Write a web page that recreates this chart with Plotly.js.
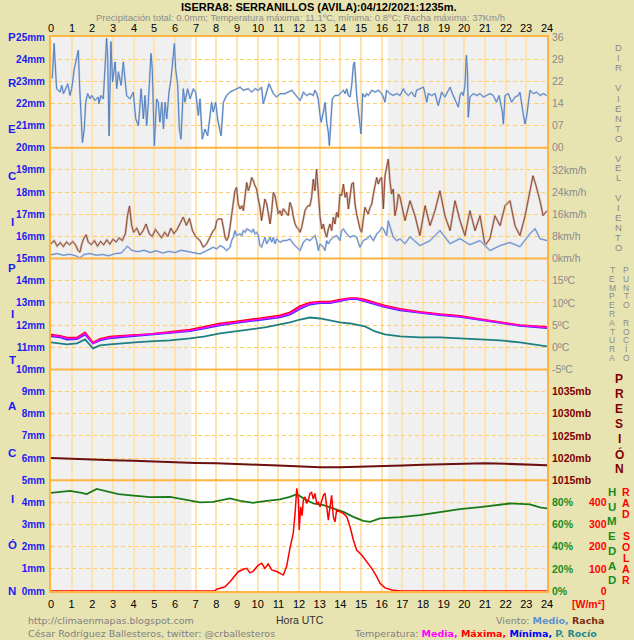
<!DOCTYPE html>
<html><head><meta charset="utf-8">
<script src="https://cdn.plot.ly/plotly-3.0.1.min.js"></script>
<style>html,body{margin:0;padding:0;background:#e8e4b2;}#chart{width:634px;height:640px;}</style>
</head><body><div id="chart"></div>
<script>
// ---------------- DATA ----------------
const titleText = "ISERRA8: SERRANILLOS (AVILA):04/12/2021:1235m.";
const subtitleText = "Precipitación total: 0.0mm; Temperatura máxima: 11.1ºC, mínima: 0.8ºC; Racha máxima: 37Km/h";
const dayStart = 6.8, dayEnd = 16.3;

const hourLabels = [0,1,2,3,4,5,6,7,8,9,10,11,12,13,14,15,16,17,18,19,20,21,22,23,24];
const precipTicks = [0,1,2,3,4,5,6,7,8,9,10,11,12,13,14,15,16,17,18,19,20,21,22,23,24,25];
const dirTickVals = [0,7.2,14.4,21.6,28.8,36];
const dirTickText = ["00","07","14","22","29","36"];
const spdTickVals = [0,8,16,24,32];
const tmpTickVals = [-5,0,5,10,15];
const presTickVals = [1015,1020,1025,1030,1035];
const humTickVals = [0,20,40,60,80];
const solTickVals = [0,100,200,300,400];

const wdirT = [0.06,0.15,0.27,0.44,0.52,0.60,0.68,0.81,0.92,1.00,1.13,1.21,1.32,1.39,1.45,1.52,1.61,1.68,1.77,1.89,1.97,2.13,2.29,2.32,2.42,2.53,2.61,2.69,2.74,2.81,2.90,2.98,3.10,3.18,3.26,3.39,3.50,3.66,3.82,3.98,4.10,4.23,4.36,4.47,4.55,4.63,4.71,4.84,4.90,5.00,5.11,5.19,5.27,5.36,5.44,5.52,5.60,5.71,5.81,5.97,6.03,6.13,6.21,6.29,6.40,6.48,6.61,6.73,6.89,7.00,7.13,7.21,7.32,7.45,7.58,7.69,7.77,7.85,7.97,8.06,8.13,8.23,8.34,8.50,8.66,8.82,8.98,9.15,9.31,9.55,9.71,9.87,10.03,10.19,10.27,10.44,10.55,10.76,10.92,11.08,11.32,11.65,11.89,12.05,12.13,12.21,12.37,12.53,12.69,12.77,12.86,12.94,13.02,13.07,13.18,13.26,13.34,13.42,13.47,13.55,13.61,13.74,13.90,14.06,14.15,14.23,14.31,14.39,14.47,14.55,14.63,14.68,14.71,14.79,14.87,14.95,15.00,15.08,15.19,15.27,15.36,15.52,15.68,15.84,16.00,16.08,16.16,16.24,16.40,16.56,16.73,16.89,17.05,17.13,17.29,17.45,17.61,17.69,17.86,18.02,18.10,18.18,18.26,18.42,18.58,18.74,18.90,19.06,19.23,19.31,19.39,19.55,19.71,19.79,19.87,19.95,20.03,20.10,20.16,20.19,20.27,20.44,20.60,20.76,20.92,21.08,21.24,21.40,21.56,21.68,21.77,21.84,21.89,21.97,22.13,22.29,22.45,22.61,22.69,22.77,22.86,22.94,23.02,23.10,23.18,23.34,23.50,23.66,23.82,23.98];
const wdirV = [22.5,33.9,19.2,18.1,20.3,17.6,18.7,20.8,17.0,19.2,25.7,28.5,31.7,19.2,9.4,1.7,6.1,14.8,17.6,15.9,17.0,15.4,16.5,14.3,17.0,15.9,25.7,35.6,30.1,3.9,34.5,21.4,27.9,19.2,24.7,20.3,27.9,17.0,15.9,18.1,9.4,7.2,19.2,9.4,17.0,7.2,14.8,30.7,25.7,0.7,15.9,14.8,8.3,14.8,6.1,14.8,9.4,18.1,22.5,33.9,25.7,20.3,6.1,2.8,19.2,14.8,19.2,15.9,19.2,18.1,10.5,15.9,2.8,6.1,3.9,9.4,14.8,11.6,14.8,9.4,7.2,3.9,14.8,17.0,18.1,18.7,19.2,19.7,18.7,19.2,18.1,19.2,18.7,19.7,14.3,18.7,20.8,17.6,16.5,17.6,17.6,18.7,16.5,15.4,16.5,18.1,17.0,17.6,17.0,18.7,17.6,15.4,10.5,8.3,11.6,14.8,8.3,5.0,0.7,9.4,15.9,17.0,17.0,18.1,18.7,17.6,19.2,17.0,16.5,20.3,26.8,27.9,25.7,17.0,12.7,8.3,4.5,17.6,16.5,17.6,17.0,18.7,18.1,18.7,17.6,16.5,14.8,18.7,17.6,17.0,17.6,17.0,19.2,18.1,17.0,18.1,16.5,18.7,19.2,19.7,17.6,14.8,17.6,17.0,17.6,13.7,18.1,16.5,18.7,19.7,18.1,15.9,13.2,17.0,18.1,17.0,20.3,30.1,23.6,9.9,16.5,17.6,17.0,17.6,16.5,17.0,17.6,17.0,14.8,17.0,13.7,11.6,7.7,17.0,17.6,14.8,16.5,17.0,18.1,13.7,10.5,7.7,10.5,14.8,18.7,17.6,18.1,17.0,17.6,17.0];

const gustT = [0,0.15,0.3,0.45,0.6,0.75,0.9,1.05,1.2,1.3,1.4,1.5,1.6,1.7,1.8,1.95,2.1,2.25,2.4,2.55,2.7,2.85,3.0,3.15,3.3,3.45,3.6,3.7,3.8,3.9,4.0,4.15,4.3,4.45,4.6,4.75,4.9,5.05,5.2,5.35,5.5,5.65,5.8,5.95,6.1,6.25,6.4,6.55,6.7,6.85,7.0,7.21,7.37,7.53,7.69,7.85,7.94,8.02,8.10,8.26,8.34,8.42,8.50,8.58,8.66,8.74,8.82,8.90,8.98,9.06,9.15,9.23,9.31,9.39,9.47,9.55,9.63,9.71,9.79,9.87,9.95,10.03,10.11,10.19,10.27,10.35,10.44,10.52,10.60,10.68,10.76,10.84,10.92,11.00,11.08,11.16,11.24,11.40,11.48,11.56,11.65,11.73,11.81,11.89,11.97,12.05,12.13,12.21,12.29,12.37,12.45,12.53,12.61,12.69,12.77,12.85,12.94,13.02,13.10,13.18,13.26,13.34,13.42,13.50,13.58,13.66,13.74,13.82,13.90,13.98,14.06,14.15,14.23,14.31,14.39,14.47,14.55,14.63,14.71,14.79,14.87,14.95,15.03,15.11,15.19,15.27,15.35,15.44,15.52,15.60,15.68,15.76,15.84,15.92,16.00,16.08,16.16,16.24,16.32,16.40,16.48,16.56,16.64,16.73,16.81,16.89,17.13,17.37,17.61,17.85,18.10,18.34,18.58,18.82,19.06,19.31,19.55,19.79,20.03,20.27,20.52,20.76,21.00,21.24,21.48,21.73,21.97,22.21,22.45,22.69,22.94,23.18,23.32,23.47,23.66,23.81,24.0];
const gustV = [5.3,6.5,4.5,5.8,4.3,6.0,5.0,6.2,4.8,3.0,2.3,5.5,7.5,8.6,6.0,5.0,6.5,4.5,6.2,5.0,6.8,5.2,7.0,6.0,7.5,6.5,9.0,15.5,19.0,12.0,9.5,11.0,8.5,10.0,12.5,9.0,8.0,10.5,9.0,7.5,9.5,8.0,11.0,9.0,10.5,13.0,15.0,12.0,14.5,10.0,8.0,6.5,4.1,5.3,7.7,10.1,10.7,13.7,14.3,14.3,11.3,7.7,6.5,7.7,11.3,15.5,19.1,24.5,25.7,19.7,17.9,19.1,17.3,21.5,27.5,24.5,26.3,29.3,28.1,26.3,25.1,21.5,18.5,13.7,18.5,21.5,19.7,16.1,12.5,17.3,23.9,22.7,18.5,16.1,17.3,15.5,18.0,16.1,15.5,20.3,18.5,14.9,12.5,11.3,10.7,9.5,11.3,14.3,17.3,18.5,19.1,19.1,22.1,28.7,24.5,32.3,23.3,14.9,10.7,12.5,9.5,7.7,10.7,12.5,10.1,14.9,12.5,16.7,14.9,23.3,22.7,26.9,22.1,23.9,17.9,22.7,26.9,27.5,19.7,16.1,13.7,10.7,9.5,14.9,18.5,17.3,16.1,18.5,19.7,23.3,26.9,29.3,26.9,28.7,29.3,17.9,29.9,32.9,35.9,28.1,23.3,25.1,15.5,18.5,23.3,22.1,13.7,20.9,15.5,8.3,19.1,11.9,17.3,24.5,15.5,10.1,20.9,13.7,8.3,17.3,10.1,15.5,4.7,7.2,15.5,11.9,19.1,20.9,11.9,8.3,15.5,24.5,29.9,26.3,20.9,15.5,17.3];

const meanT = [0,0.3,0.6,0.9,1.2,1.4,1.6,1.9,2.2,2.5,2.8,3.1,3.4,3.7,3.9,4.2,4.5,4.8,5.1,5.4,5.7,6.0,6.3,6.6,6.9,7.21,7.53,7.69,7.85,8.02,8.18,8.34,8.50,8.66,8.74,8.82,8.90,8.98,9.15,9.23,9.31,9.39,9.47,9.63,9.71,9.79,9.87,9.95,10.03,10.11,10.19,10.27,10.35,10.44,10.52,10.60,10.68,10.76,10.84,10.92,11.08,11.24,11.40,11.56,11.73,11.89,12.05,12.21,12.37,12.53,12.69,12.77,12.85,12.94,13.02,13.18,13.26,13.34,13.42,13.50,13.66,13.82,13.98,14.06,14.15,14.31,14.47,14.63,14.79,14.95,15.03,15.11,15.27,15.44,15.60,15.76,15.92,16.00,16.08,16.24,16.32,16.40,16.56,16.73,16.89,17.13,17.37,17.85,18.34,18.82,19.31,19.79,20.27,20.76,21.24,21.73,22.21,22.69,23.18,23.42,23.66,24.0];
const meanV = [1.4,1.8,1.2,1.6,1.0,0.2,1.5,1.8,1.2,1.5,1.0,1.8,2.0,4.5,3.0,2.5,3.0,2.2,2.8,2.0,2.6,2.2,3.0,2.5,2.0,1.7,2.9,3.5,4.1,3.5,4.7,4.1,2.9,4.1,6.5,7.7,10.1,8.3,8.9,8.3,10.1,9.5,10.7,10.1,9.5,10.7,8.9,9.5,8.3,4.7,4.1,5.9,7.7,5.3,6.5,7.7,5.9,7.7,5.3,7.1,5.9,6.5,6.5,7.1,5.3,4.1,2.9,5.9,7.1,6.5,7.7,8.3,6.5,2.9,5.3,4.1,2.9,6.5,5.3,6.5,7.7,8.3,6.5,10.1,10.7,8.9,7.7,8.3,7.7,4.1,5.3,6.5,7.1,8.3,6.5,8.9,10.1,11.3,10.7,8.3,13.7,11.9,7.7,6.5,7.1,5.4,7.9,4.7,6.5,10.1,5.4,7.2,5.0,6.5,2.9,4.7,5.8,4.3,9.0,10.8,7.2,6.5];

const tempT = [0,0.44,0.77,1.26,1.65,2.03,2.37,2.85,3.34,4.06,4.79,5.76,6.73,7.45,8.18,8.9,9.63,10.35,11.08,11.56,12.05,12.53,13.02,13.5,13.98,14.47,14.8,15.19,15.68,16.16,16.89,17.85,18.82,19.79,20.76,21.73,22.69,23.42,24];
const tempMean = [2.66,2.43,1.98,1.98,3.11,0.86,1.76,2.21,2.43,2.66,2.88,3.33,3.79,4.46,5.14,5.59,6.04,6.49,6.94,7.61,8.96,9.87,10.09,10.09,10.54,10.99,10.99,10.54,9.87,9.19,8.51,7.84,7.39,6.94,6.26,5.59,4.91,4.69,4.46];
const tempMax = [2.9,2.6,2.2,2.2,3.4,1.1,1.9,2.4,2.6,2.8,3.0,3.5,4.0,4.7,5.4,5.8,6.3,6.7,7.2,7.9,9.3,10.1,10.3,10.3,10.8,11.1,11.1,10.8,10.1,9.4,8.7,8.0,7.5,7.1,6.4,5.7,5.0,4.8,4.6];
const tempMin = [2.4,2.2,1.7,1.8,2.8,0.8,1.5,2.0,2.2,2.5,2.7,3.1,3.6,4.2,4.9,5.4,5.8,6.3,6.7,7.3,8.6,9.6,9.9,9.9,10.3,10.8,10.8,10.3,9.6,9.0,8.3,7.7,7.2,6.8,6.1,5.4,4.8,4.5,4.3];
const dewPoint = [1.08,0.86,0.63,0.86,1.76,-0.27,0.41,0.63,0.86,1.08,1.31,1.53,1.98,2.43,3.11,3.56,4.01,4.46,5.14,5.59,6.26,6.71,6.49,6.04,5.59,5.36,5.0,4.69,3.56,2.88,2.43,2.21,2.21,1.98,1.76,1.53,1.08,0.63,0.18];

const presT = [0,1,2,3,4,5,6,7,8,9,10,11,12,13,14,15,16,17,18,19,20,21,22,23,24];
const presV = [1020.0,1019.8,1019.6,1019.5,1019.4,1019.2,1019.0,1018.9,1018.8,1018.7,1018.5,1018.3,1018.1,1017.9,1017.9,1018.0,1018.1,1018.3,1018.5,1018.6,1018.7,1018.8,1018.7,1018.6,1018.4];

const humT = [0,0.44,0.92,1.48,1.73,2.21,2.85,3.26,4.0,4.8,5.76,6.24,6.73,7.21,7.85,8.66,9.15,9.79,10.44,11.08,11.56,11.89,12.37,12.69,13.18,13.66,14.15,14.63,15.11,15.44,15.92,16.89,17.85,18.82,19.79,20.76,21.73,22.21,23.18,23.66,24];
const humV = [88.6,89.2,90.4,88.6,87.4,92.2,89.2,87.4,86.0,84.7,85.0,83.5,82.0,79.9,80.5,83.5,81.4,79.6,81.4,82.6,85.0,87.4,82.0,79.0,77.5,74.5,71.4,66.9,63.3,62.4,65.5,66.7,68.5,71.2,73.9,75.7,77.5,79.0,78.1,75.4,74.5];

const solT = [0,7.9,8.02,8.42,8.66,8.9,9.06,9.31,9.47,9.63,9.79,10.03,10.2,10.35,10.51,10.68,10.92,11.24,11.4,11.56,11.72,11.81,11.89,11.97,12.01,12.08,12.15,12.21,12.29,12.37,12.45,12.53,12.61,12.69,12.77,12.86,12.94,13.02,13.18,13.26,13.34,13.42,13.5,13.58,13.66,13.74,13.82,13.95,14.14,14.31,14.47,14.63,14.79,15.03,15.28,15.52,15.76,15.92,16.16,16.5,16.89,24];
const solV = [0,0,8,19,42,72,87,98,102,82,90,117,125,102,122,95,88,72,110,192,260,350,463,410,275,380,340,410,425,395,410,440,445,415,440,395,400,380,432,441,374,320,380,432,335,312,365,358,350,335,290,230,185,162,132,102,65,35,14,5,0,0];

// ---------------- GEOMETRY / STYLE ----------------
const W = 634, H = 640, L = 51, R = 547, T = 37, B = 591;
const PW = W - L;
const pxX = p => (p - L) / PW;
const pxY = p => (B - p) / (B - T);
const ORANGE = '#ffb340';
const SANS = '"Liberation Sans",Arial,sans-serif';
const VERD = '"DejaVu Sans",Verdana,sans-serif';
const FS = '\u2007';

function panelRange(lo, hi, idx) { // idx: 0 = bottom panel
  const u = (hi - lo) / 5;
  return [lo - idx * 5 * u, hi + (4 - idx) * 5 * u];
}

const traces = [];
function addLine(t, v, ax, color, width, halo, haloW) {
  if (halo) traces.push({type:'scatter', mode:'lines', x:t, y:v, yaxis:ax, line:{color:halo, width:haloW}, hoverinfo:'skip', showlegend:false});
  traces.push({type:'scatter', mode:'lines', x:t, y:v, yaxis:ax, line:{color:color, width:width}, hoverinfo:'skip', showlegend:false});
}

addLine(wdirT, wdirV, 'y2', '#4a78bd', 0.9, '#bccbe0', 2);
addLine(gustT, gustV, 'y3', '#86341a', 0.8, '#cbb6aa', 2.2);
addLine(meanT, meanV, 'y3', '#5a86c8', 0.9, '#bccbe2', 2);
addLine(tempT, dewPoint, 'y4', '#1f7f80', 1.8);
addLine(tempT, tempMin, 'y4', '#3030ff', 1.5);
addLine(tempT, tempMax, 'y4', '#ff0000', 1.5);
addLine(tempT, tempMean, 'y4', '#ff00ff', 1.5);
addLine(presT, presV, 'y5', '#6b0f0f', 2);
addLine(humT, humV, 'y6', '#1a7a1a', 1.8);
addLine(solT, solV, 'y7', '#ff0000', 1.5);

function rightAxis(range, vals, text, color, bold, extra) {
  return Object.assign({
    overlaying:'y', side:'right', anchor:'x', range:range, tickmode:'array', tickvals:vals, ticktext:text,
    showgrid:false, zeroline:false, showline:false, ticks:'', ticklabelstandoff:4,
    tickfont:{family:SANS, size:10.5, color:color, weight: bold ? 'bold' : 'normal'}
  }, extra || {});
}

const annotations = [];
function ann(text, x, y, font, xanchor) {
  annotations.push({text:text, x:pxX(x), y:pxY(y), xref:'paper', yref:'paper', showarrow:false,
    xanchor:xanchor || 'center', yanchor:'middle', font:font, borderpad:0});
}
function stack(str, x, y0, step, font) {
  [...str].forEach((ch, i) => { if (ch !== ' ') ann(ch, x, y0 + i * step, font); });
}

const xTickFont = {family:SANS, size:11, color:'#000'};
// hour labels along the top edge, placed on the hour axis
hourLabels.forEach(h => annotations.push({text:String(h), x:h, xref:'x', y:pxY(28), yref:'paper', showarrow:false,
  xanchor:'center', yanchor:'middle', font:xTickFont, borderpad:0}));

ann('<b>' + titleText + '</b>', 319, 7, {family:SANS, size:11, color:'#000'});
ann(subtitleText, 300, 18, {family:SANS, size:9.5, color:'#8c8c8c'});
stack('PRECIPITACIÓN', 12, 37, (B - T) / 12, {family:SANS, size:11.5, color:'#1c1cf0', weight:'bold'});
const grayF = {family:SANS, size:9.5, color:'#8a8a8a'};
stack('DIR VIENTO', 618, 47, 10.2, grayF);
stack('VEL VIENTO', 618, 158, 9.9, grayF);
stack('TEMPERATURA', 612, 270, 8.8, {family:SANS, size:8.5, color:'#8a8a8a'});
stack('PUNTO ROCÍO', 626, 270, 8.8, {family:SANS, size:8.5, color:'#8a8a8a'});
stack('PRESIÓN', 619, 379, 15, {family:SANS, size:12, color:'#800000', weight:'bold'});
stack('HUMEDAD', 612, 492, 14.7, {family:SANS, size:11.5, color:'#1a8c1a', weight:'bold'});
stack('RAD SOLAR', 626, 492, 11, {family:SANS, size:10.5, color:'#ff0000', weight:'bold'});
ann('<b>[W/m²]</b>', 606, 604, {family:SANS, size:10.5, color:'#ff0000'}, 'right');
ann('Hora UTC', 300, 620, {family:SANS, size:10.5, color:'#333'});
ann('http://climaenmapas.blogspot.com', 27, 620, {family:VERD, size:9.5, color:'#808080'}, 'left');
ann('César Rodríguez Ballesteros, twitter: @crballesteros', 27, 633, {family:VERD, size:9.5, color:'#808080'}, 'left');
ann('Viento: <b><span style="color:#5b8fd0">Medio,</span> <span style="color:#7a3010">Racha</span></b>', 606, 620, {family:VERD, size:9.5, color:'#808080'}, 'right');
ann('Temperatura: <b><span style="color:#ff00ff">Media,</span> <span style="color:#ff0000">Máxima,</span> <span style="color:#0000ff">Mínima,</span> <span style="color:#2a8a8a">P. Rocío</span></b>', 598, 633, {family:VERD, size:9.5, color:'#808080'}, 'right');

const shapes = [
  {type:'rect', xref:'x', yref:'y', x0:dayStart, x1:dayEnd, y0:0, y1:25, fillcolor:'#ffffff', line:{width:0}, layer:'below'}
];
[5,10,15,20].forEach(v => shapes.push({type:'line', xref:'x', yref:'y', x0:0, x1:24, y0:v, y1:v, line:{color:ORANGE, width:2}, layer:'above'}));

const layout = {
  width:W, height:H, margin:{l:L, r:0, t:T, b:H - B, pad:0},
  paper_bgcolor:'#e8e4b2', plot_bgcolor:'#f0f0f0', showlegend:false,
  xaxis:{domain:[0,(R - L) / PW], range:[0,24], tick0:0, dtick:1, showgrid:true, gridcolor:'#ffe2ae', gridwidth:2,
    zeroline:false, showline:true, mirror:true, linecolor:ORANGE, linewidth:2, ticks:'', tickfont:xTickFont, ticklabelstandoff:2},
  yaxis:{range:[0,25], tickmode:'array', tickvals:precipTicks, ticktext:precipTicks.map(v => v + 'mm'),
    showgrid:true, gridcolor:'#ffcc66', gridwidth:1, griddash:'4px,3px', zeroline:false, showline:true, mirror:true,
    linecolor:ORANGE, linewidth:2, ticks:'', ticklabelstandoff:2,
    tickfont:{family:SANS, size:10, color:'#1c1cf0', weight:'bold'}},
  yaxis2: rightAxis(panelRange(0,36,4), dirTickVals, dirTickText, '#8a8a8a', false),
  yaxis3: rightAxis(panelRange(0,40,3), spdTickVals, spdTickVals.map(v => v + 'km/h'), '#8a8a8a', false),
  yaxis4: rightAxis(panelRange(-5,20,2), tmpTickVals, tmpTickVals.map(v => v + 'ºC'), '#8a8a8a', false),
  yaxis5: rightAxis(panelRange(1015,1040,1), presTickVals, presTickVals.map(v => v + 'mb'), '#800000', true),
  yaxis6: rightAxis(panelRange(0,100,0), humTickVals, humTickVals.map(v => v + '%'), '#1a8c1a', true),
  yaxis7: rightAxis(panelRange(0,500,0), solTickVals, solTickVals.map(v => String(v).padStart(3, FS)), '#ff0000', true,
    {anchor:'free', position:pxX(584)}),
  shapes:shapes, annotations:annotations
};

Plotly.newPlot('chart', traces, layout, {displayModeBar:false});
</script></body></html>
